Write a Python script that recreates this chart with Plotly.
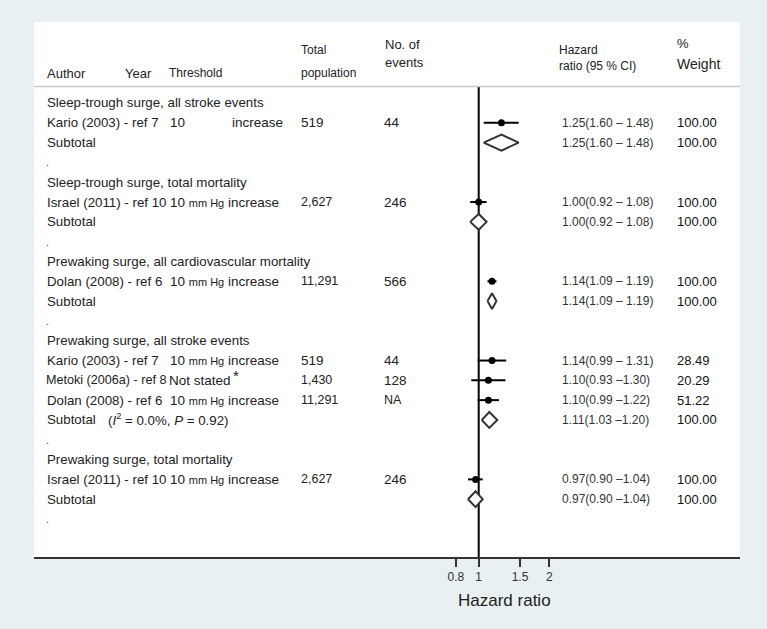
import plotly.graph_objects as go

W, H = 767, 629

# ---- data ----
row_text = [
    "Sleep-trough surge, all stroke events", "Kario (2003) - ref 7", "Subtotal", ".",
    "Sleep-trough surge, total mortality", "Israel (2011) - ref 10", "Subtotal", ".",
    "Prewaking surge, all cardiovascular mortality", "Dolan (2008) - ref 6", "Subtotal", ".",
    "Prewaking surge, all stroke events", "Kario (2003) - ref 7", "Metoki (2006a) - ref 8",
    "Dolan (2008) - ref 6", "Subtotal", ".",
    "Prewaking surge, total mortality", "Israel (2011) - ref 10", "Subtotal", ".",
]
row_kind = [
    "group", "study", "sub", "gap",
    "group", "study", "sub", "gap",
    "group", "study", "sub", "gap",
    "group", "study", "study", "study", "sub", "gap",
    "group", "study", "sub", "gap",
]
threshold = [
    "", "10", "", "",
    "", "10 mm Hg", "", "",
    "", "10 mm Hg", "", "",
    "", "10 mm Hg", "Not stated*", "10 mm Hg", "", "",
    "", "10 mm Hg", "", "",
]
population = [
    "", "519", "", "",
    "", "2,627", "", "",
    "", "11,291", "", "",
    "", "519", "1,430", "11,291", "", "",
    "", "2,627", "", "",
]
events = [
    "", "44", "", "",
    "", "246", "", "",
    "", "566", "", "",
    "", "44", "128", "NA", "", "",
    "", "246", "", "",
]
hr_est = [None, 1.25, 1.25, None, None, 1.00, 1.00, None, None, 1.14, 1.14, None,
          None, 1.14, 1.10, 1.10, 1.11, None, None, 0.97, 0.97, None]
hr_lo = [None, 1.05, 1.05, None, None, 0.92, 0.92, None, None, 1.09, 1.09, None,
         None, 0.99, 0.93, 0.99, 1.03, None, None, 0.90, 0.90, None]
hr_hi = [None, 1.48, 1.48, None, None, 1.08, 1.08, None, None, 1.19, 1.19, None,
         None, 1.31, 1.30, 1.22, 1.20, None, None, 1.04, 1.04, None]
hr_label = [
    "", "1.25(1.60 – 1.48)", "1.25(1.60 – 1.48)", "",
    "", "1.00(0.92 – 1.08)", "1.00(0.92 – 1.08)", "",
    "", "1.14(1.09 – 1.19)", "1.14(1.09 – 1.19)", "",
    "", "1.14(0.99 – 1.31)", "1.10(0.93 –1.30)", "1.10(0.99 –1.22)", "1.11(1.03 –1.20)", "",
    "", "0.97(0.90 –1.04)", "0.97(0.90 –1.04)", "",
]
weight = [
    "", "100.00", "100.00", "",
    "", "100.00", "100.00", "",
    "", "100.00", "100.00", "",
    "", "28.49", "20.29", "51.22", "100.00", "",
    "", "100.00", "100.00", "",
]
subtotal_het = {16: "(<i>I</i><sup>2</sup> = 0.0%, <i>P</i> = 0.92)"}
x_ticks = [0.8, 1, 1.5, 2]

# ---- layout helpers ----
FONT = "Liberation Sans, Arial, sans-serif"
ROW0, ROWH = 103, 19.81          # pixel y of first row and row pitch
TOP, BOT, LEFT, RIGHT = 22, 557, 34, 740
ONE_PX, PX_PER_DEC = 478.7, 234.6
HEAD_PX = 86.5


def ry(py):
    return (py - ROW0) / ROWH


def px(x):
    return x / W


def py(y):
    return 1 - y / H


fig = go.Figure()
ann = []


def txt(x, y, s, size=13, color="#222", anchor="left", yref="y"):
    ann.append(dict(x=px(x), y=y, xref="paper", yref=yref, text=s, showarrow=False,
                    xanchor=anchor, yanchor="middle",
                    font=dict(family=FONT, size=size, color=color)))


# header
for x, y, s, sz in [(45, 73, "Author", 13), (123, 73, "Year", 13), (167, 73, "Threshold", 12),
                    (299, 50, "Total", 12), (299, 73, "population", 12),
                    (383, 44, "No. of", 13), (383, 63, "events", 13),
                    (557, 50, "Hazard", 12), (557, 66, "ratio (95 % CI)", 12),
                    (675, 43, "%", 13), (675, 64, "Weight", 14)]:
    txt(x, py(y), s, size=sz, yref="paper")

# rows
for i, label in enumerate(row_text):
    if row_kind[i] == "gap":
        txt(44, i, ".", size=11, color="#444")
        continue
    # the Metoki label is set a bit tighter in the original so it fits
    txt(44 if "Metoki" in label else 45, i, label, size=12.6 if "Metoki" in label else 13.3)
    if i in subtotal_het:
        txt(106, i, subtotal_het[i], size=13.3)
    t = threshold[i]
    if "mm Hg" in t:
        num = t.replace(" mm Hg", "")
        txt(281, i, num + " <span style='font-size:11px'>mm Hg</span> increase",
            size=13.5, anchor="right")
    elif t.endswith("*"):
        txt(167, i, t[:-1], size=13.5)
        txt(231, i - 0.25, "*", size=15)
    elif t:
        txt(168, i, t, size=13.5)
        txt(230, i, "increase", size=13.5)
    p = population[i]
    if p:
        txt(299, i, p, size=12.5 if "," in p else 13.5)
    e = events[i]
    if e:
        txt(382, i, e, size=12.5 if e == "NA" else 13.5)
    if hr_label[i]:
        txt(560, i, hr_label[i], size=12, color="#333")
    if weight[i]:
        txt(675, i, weight[i], size=13, color="#111")

# study estimates
s_idx = [i for i, k in enumerate(row_kind) if k == "study"]
fig.add_trace(go.Scatter(
    x=[hr_est[i] for i in s_idx], y=s_idx, mode="markers",
    marker=dict(color="black", size=7),
    error_x=dict(type="data", symmetric=False,
                 array=[hr_hi[i] - hr_est[i] for i in s_idx],
                 arrayminus=[hr_est[i] - hr_lo[i] for i in s_idx],
                 color="black", thickness=2, width=0),
    showlegend=False, hoverinfo="skip"))

# subtotal diamonds
for i, k in enumerate(row_kind):
    if k != "sub":
        continue
    h = 0.4
    fig.add_trace(go.Scatter(
        x=[hr_lo[i], hr_est[i], hr_hi[i], hr_est[i], hr_lo[i]],
        y=[i, i - h, i, i + h, i], mode="lines", fill="toself",
        fillcolor="white", line=dict(color="#333", width=2),
        showlegend=False, hoverinfo="skip"))

ymin, ymax = ry(TOP), ry(BOT)
shapes = [
    dict(type="line", xref="paper", yref="y", x0=px(LEFT), x1=px(RIGHT),
         y0=ry(HEAD_PX), y1=ry(HEAD_PX), line=dict(color="#c8c8c8", width=1.5)),
    dict(type="line", xref="x", yref="y", x0=1, x1=1, y0=ry(HEAD_PX), y1=ymax,
         line=dict(color="black", width=2), layer="below"),
]
ann.append(dict(x=px(505), y=py(600), xref="paper", yref="paper", text="Hazard ratio",
                showarrow=False, xanchor="center", yanchor="middle",
                font=dict(family=FONT, size=17, color="#222")))

fig.update_layout(
    width=W, height=H, margin=dict(l=0, r=0, t=0, b=0),
    paper_bgcolor="#e8f0f2", plot_bgcolor="white",
    annotations=ann, shapes=shapes, showlegend=False,
    xaxis=dict(type="log", domain=[px(LEFT), px(RIGHT)],
               range=[(LEFT - ONE_PX) / PX_PER_DEC, (RIGHT - ONE_PX) / PX_PER_DEC],
               showgrid=False, zeroline=False, showline=True, linecolor="#333", linewidth=2,
               ticks="outside", ticklen=8, tickwidth=1.5, tickcolor="#333",
               tickvals=x_ticks, ticktext=[str(v) for v in x_ticks],
               tickfont=dict(family=FONT, size=12, color="#333")),
    yaxis=dict(domain=[py(BOT), py(TOP)], range=[ymax, ymin],
               showgrid=False, zeroline=False, showticklabels=False, showline=False),
)

# page has a default body margin; remove it so the figure fills the window
fig.write_html("out.html", config={"displayModeBar": False},
               post_script="document.body.style.margin='0';")
